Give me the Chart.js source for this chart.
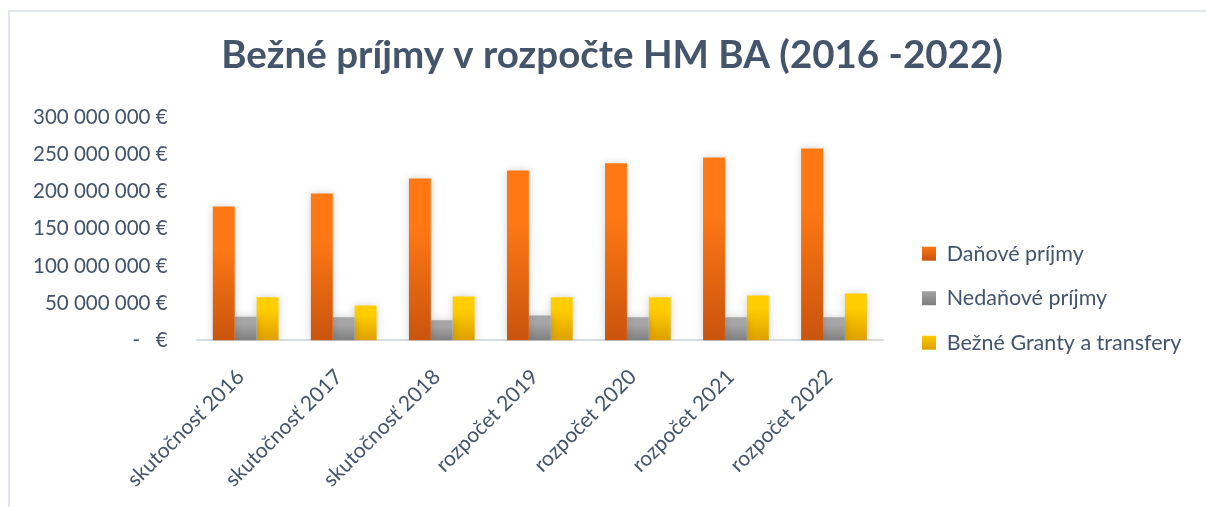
<!DOCTYPE html>
<html>
<head>
<meta charset="utf-8">
<script src="https://cdn.jsdelivr.net/npm/chart.js@4.4.1/dist/chart.umd.min.js"></script>
<style>
  body { margin: 0; background: #fff; }
  #frame { position: absolute; left: 8px; top: 10px; width: 1198px; height: 497px;
           border-left: 2px solid #e1e5ec; border-top: 2px solid #e1e5ec; box-sizing: border-box; }
  #wrap { position: absolute; left: 0; top: 0; width: 1206px; height: 507px; }
</style>
</head>
<body>
<div id="frame"></div>
<div id="wrap"><canvas id="myChart"></canvas></div>
<script>
const labels = ['skutočnosť 2016', 'skutočnosť 2017', 'skutočnosť 2018', 'rozpočet 2019', 'rozpočet 2020', 'rozpočet 2021', 'rozpočet 2022']
const danove = [180000000, 197500000, 217500000, 228500000, 238000000, 246000000, 258000000]
const nedanove = [32000000, 31000000, 27000000, 33500000, 31000000, 31000000, 31000000]
const granty = [58000000, 47000000, 59000000, 58000000, 58000000, 60500000, 63000000]
const seriesNames = ['Daňové príjmy', 'Nedaňové príjmy', 'Bežné Granty a transfery']

const textColor = '#44546a'
const grad = {
  orange: ['#ff7814', '#c9540d'],
  gray: ['#a6a6a6', '#7f7f7f'],
  yellow: ['#ffcd00', '#dea000']
}
const legendWidth = 308   // room for legend incl. gap to the plot
const legendGap = 16

// gradient per bar, from its top to the axis
function barGradient(pair) {
  return function(context) {
    const chart = context.chart
    const y = chart.scales.y
    if (!y || !chart.chartArea || context.raw === undefined) return pair[0]
    const top = y.getPixelForValue(context.raw)
    const bottom = y.getPixelForValue(0)
    if (!isFinite(top) || !isFinite(bottom) || top === bottom) return pair[0]
    const g = chart.ctx.createLinearGradient(0, top, 0, bottom)
    g.addColorStop(0, pair[0])
    g.addColorStop(0.3, pair[0])
    g.addColorStop(1, pair[1])
    return g
  }
}

function legendGradient(pair, ctx, y0) {
  const g = ctx.createLinearGradient(0, y0, 0, y0 + 14)
  g.addColorStop(0, pair[0])
  g.addColorStop(1, pair[1])
  return g
}

function formatEur(v) {
  if (v === 0) return '-   €'
  return String(v).replace(/\B(?=(\d{3})+(?!\d))/g, ' ') + ' €'
}

const shadowPlugin = {
  id: 'barShadow',
  beforeDatasetDraw(chart) {
    const ctx = chart.ctx
    ctx.save()
    ctx.shadowColor = 'rgba(0,0,0,0.18)'
    ctx.shadowBlur = 8
    ctx.shadowOffsetX = 0
    ctx.shadowOffsetY = 0
  },
  afterDatasetDraw(chart) {
    chart.ctx.restore()
  }
}

// legend takes a fixed width, then sits a bit away from the plot
const legendSpace = {
  id: 'legendSpace',
  afterInit(chart) {
    const l = chart.legend
    const fit = l.fit.bind(l)
    l.fit = function() { fit(); this.width = legendWidth }
  },
  afterLayout(chart) {
    const l = chart.legend
    l.left = chart.chartArea.right + legendGap
  }
}

const ctx = document.getElementById('myChart')
const colorPairs = [grad.orange, grad.gray, grad.yellow]

const chart = new Chart(ctx, {
  type: 'bar',
  data: {
    labels: labels,
    datasets: [
      { label: seriesNames[0], data: danove, backgroundColor: barGradient(grad.orange) },
      { label: seriesNames[1], data: nedanove, backgroundColor: barGradient(grad.gray) },
      { label: seriesNames[2], data: granty, backgroundColor: barGradient(grad.yellow) }
    ]
  },
  options: {
    responsive: true,
    maintainAspectRatio: false,
    animation: false,
    layout: { padding: { left: 33, right: 15, top: 6, bottom: 15 } },
    datasets: { bar: { categoryPercentage: 0.67, barPercentage: 1.0 } },
    plugins: {
      title: {
        display: true,
        text: 'Bežné príjmy v rozpočte HM BA (2016 -2022)',
        color: textColor,
        font: { family: 'Lato', size: 38.5, weight: 'bold' },
        padding: { top: 26, bottom: 39 }
      },
      legend: {
        position: 'right',
        align: 'center',
        title: { display: true, text: '', padding: { top: 42, bottom: 42 } },
        labels: {
          color: textColor,
          font: { family: 'Lato', size: 21.5 },
          boxWidth: 14,
          boxHeight: 14,
          padding: 23,
          generateLabels(chart) {
            return seriesNames.map((n, i) => ({
              text: n,
              fillStyle: legendGradient(colorPairs[i], chart.ctx, 246 + i * 44.5),
              strokeStyle: 'rgba(0,0,0,0)',
              lineWidth: 0,
              fontColor: textColor,
              datasetIndex: i,
              hidden: false
            }))
          }
        }
      },
      tooltip: { enabled: false }
    },
    scales: {
      x: {
        grid: { display: false, drawTicks: false },
        border: { display: true, color: '#d9dde4', width: 2 },
        afterFit: s => { s.paddingLeft = 0; s.height -= s.options.ticks.padding },
        ticks: {
          color: textColor,
          font: { family: 'Lato', size: 21 },
          maxRotation: 45,
          minRotation: 45,
          labelOffset: -5,
          padding: 24
        }
      },
      y: {
        min: 0,
        max: 300000000,
        grid: { display: false, drawTicks: false },
        border: { display: false },
        afterFit: s => { s.width -= s.options.ticks.padding },
        ticks: {
          stepSize: 50000000,
          color: textColor,
          font: { family: 'Lato', size: 20.5 },
          padding: 29,
          callback: v => formatEur(v)
        }
      }
    }
  },
  plugins: [shadowPlugin, legendSpace]
})
</script>
</body>
</html>
